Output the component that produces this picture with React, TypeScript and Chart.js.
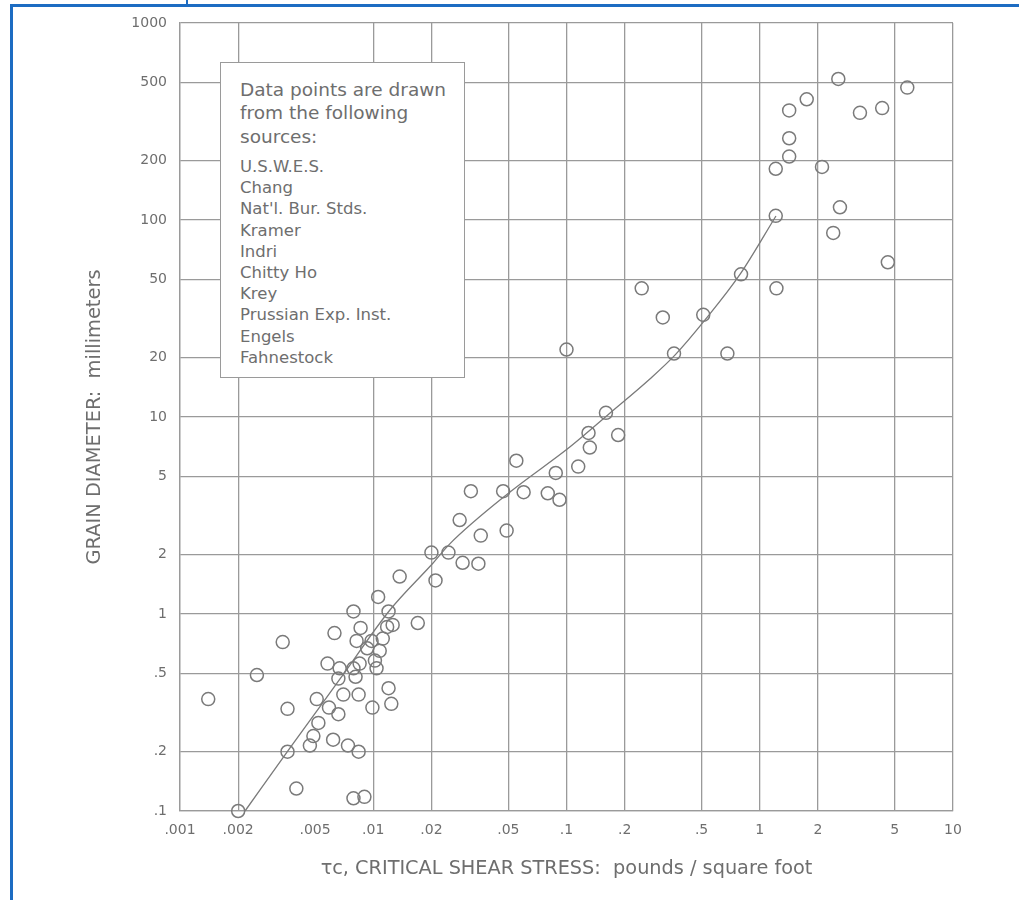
import React, { useEffect, useRef } from 'react';
import { Chart, registerables } from 'chart.js';

Chart.register(...registerables);

// Observed critical shear stress (lb/ft²) and grain diameter (mm)
const shearStress = [
  2.55, 5.8, 1.75, 1.42, 4.3, 3.3, 1.42, 1.42, 1.21, 2.1,
  2.6, 1.21, 2.4, 4.6, 0.8, 0.245, 1.22, 0.315, 0.51, 0.36,
  0.68, 0.1, 0.16, 0.13, 0.185, 0.132, 0.055, 0.115, 0.088, 0.032,
  0.047, 0.06, 0.08, 0.092, 0.028, 0.036, 0.049, 0.02, 0.0245, 0.029,
  0.035, 0.021, 0.0137, 0.0106, 0.0079, 0.012, 0.017, 0.0063, 0.0086, 0.0118,
  0.0126, 0.0034, 0.0082, 0.0098, 0.0112, 0.0093, 0.0108, 0.0058, 0.0067, 0.0079,
  0.0085, 0.0102, 0.0104, 0.0025, 0.0066, 0.0081, 0.0014, 0.0051, 0.007, 0.0084,
  0.012, 0.0124, 0.0099, 0.0036, 0.0059, 0.0066, 0.0052, 0.0049, 0.0047, 0.0062,
  0.0074, 0.0084, 0.0036, 0.004, 0.0079, 0.009, 0.002,
];
const grainDiameter = [
  520, 470, 410, 360, 370, 350, 260, 210, 182, 186,
  116, 105, 86, 61, 53, 45, 45, 32, 33, 21,
  21, 22, 10.5, 8.3, 8.1, 7, 6, 5.6, 5.2, 4.2,
  4.2, 4.15, 4.1, 3.8, 3.0, 2.5, 2.65, 2.05, 2.05, 1.82,
  1.8, 1.48, 1.55, 1.22, 1.03, 1.03, 0.9, 0.8, 0.85, 0.86,
  0.88, 0.72, 0.73, 0.73, 0.75, 0.67, 0.65, 0.56, 0.53, 0.53,
  0.56, 0.58, 0.53, 0.49, 0.47, 0.48, 0.37, 0.37, 0.39, 0.39,
  0.42, 0.35, 0.335, 0.33, 0.335, 0.31, 0.28, 0.24, 0.215, 0.23,
  0.215, 0.2, 0.2, 0.13, 0.116, 0.118, 0.1,
];

// Fitted curve
const curveStress = [0.00217, 0.00371, 0.00673, 0.0122, 0.0204, 0.0249, 0.051, 0.104, 0.168, 0.27, 0.364, 0.521, 0.79, 1.213];
const curveDiameter = [0.1, 0.209, 0.468, 1.048, 1.815, 2.27, 4.16, 7.04, 10.48, 15.6, 20.6, 31.1, 52.9, 104.8];

const xTickValues = [0.001, 0.002, 0.005, 0.01, 0.02, 0.05, 0.1, 0.2, 0.5, 1, 2, 5, 10];
const xTickLabels = ['.001', '.002', '.005', '.01', '.02', '.05', '.1', '.2', '.5', '1', '2', '5', '10'];
const xGridHidden = [0.005];
const yTickValues = [0.1, 0.2, 0.5, 1, 2, 5, 10, 20, 50, 100, 200, 500, 1000];
const yTickLabels = ['.1', '.2', '.5', '1', '2', '5', '10', '20', '50', '100', '200', '500', '1000'];

const xTitle = 'τc, CRITICAL SHEAR STRESS:  pounds / square foot';
const yTitle = 'GRAIN DIAMETER:  millimeters';
const legendHeader = ['Data points are drawn', 'from the following', 'sources:'];
const legendSources = [
  'U.S.W.E.S.', 'Chang', "Nat'l. Bur. Stds.", 'Kramer', 'Indri',
  'Chitty Ho', 'Krey', 'Prussian Exp. Inst.', 'Engels', 'Fahnestock',
];

const FONT = '"DejaVu Sans", "Noto Sans", sans-serif';
const TEXT = '#6e6e6e';
const GRID = '#9a9a9a';
const MARK = '#7a7a7a';
const BLUE = '#1d6cc2';

export default function App() {
  const canvasRef = useRef<HTMLCanvasElement | null>(null);

  useEffect(() => {
    const canvas = canvasRef.current;
    if (!canvas) return;
    const chart = new Chart(canvas, {
      type: 'scatter',
      data: {
        datasets: [
          {
            label: 'Observed',
            data: shearStress.map((x, i) => ({ x, y: grainDiameter[i] })),
            pointRadius: 6.5,
            pointBorderWidth: 1.5,
            pointBorderColor: MARK,
            pointBackgroundColor: 'rgba(0,0,0,0)',
            showLine: false,
            clip: false,
          },
          {
            label: 'Curve',
            data: curveStress.map((x, i) => ({ x, y: curveDiameter[i] })),
            showLine: true,
            pointRadius: 0,
            borderColor: MARK,
            borderWidth: 1.3,
            cubicInterpolationMode: 'monotone',
            clip: false,
          },
        ],
      },
      options: {
        animation: false,
        responsive: false,
        events: [],
        layout: { padding: { left: 0, top: 23, right: 66, bottom: 0 } },
        plugins: { legend: { display: false }, tooltip: { enabled: false } },
        scales: {
          x: {
            type: 'logarithmic',
            min: 0.001,
            max: 10,
            afterBuildTicks: (s: any) => {
              s.ticks = xTickValues.map((v) => ({ value: v }));
            },
            afterFit: (s: any) => {
              s.height = 89;
            },
            ticks: {
              autoSkip: false,
              maxRotation: 0,
              minRotation: 0,
              padding: 11,
              color: TEXT,
              font: { family: FONT, size: 14 },
              callback: (_v: any, i: number) => xTickLabels[i],
            },
            grid: {
              color: (ctx: any) =>
                ctx.tick && xGridHidden.includes(ctx.tick.value) ? 'rgba(0,0,0,0)' : GRID,
              lineWidth: 1.3,
              drawTicks: false,
            },
            border: { color: GRID, width: 1.3 },
            title: {
              display: true,
              text: xTitle,
              color: TEXT,
              font: { family: FONT, size: 19.3 },
              padding: { top: 0, bottom: 19 },
            },
          },
          y: {
            type: 'logarithmic',
            min: 0.1,
            max: 1000,
            afterBuildTicks: (s: any) => {
              s.ticks = yTickValues.map((v) => ({ value: v }));
            },
            afterFit: (s: any) => {
              s.width = 180;
            },
            ticks: {
              autoSkip: false,
              padding: 13,
              color: TEXT,
              font: { family: FONT, size: 14 },
              callback: (_v: any, i: number) => yTickLabels[i],
            },
            grid: { color: GRID, lineWidth: 1.3, drawTicks: false },
            border: { color: GRID, width: 1.3 },
            title: {
              display: true,
              text: yTitle,
              color: TEXT,
              font: { family: FONT, size: 19.4 },
              padding: { top: 83, bottom: 0 },
            },
          },
        },
      },
    } as any);
    return () => chart.destroy();
  }, []);

  return (
    <div style={{ position: 'absolute', left: 0, top: 0, width: 1019, height: 900, background: '#fff', overflow: 'hidden' }}>
      <canvas ref={canvasRef} width={1019} height={900} style={{ position: 'absolute', left: 0, top: 0, width: 1019, height: 900 }} />
      <div style={{ position: 'absolute', left: 10, top: 4, width: 1009, height: 3, background: BLUE }} />
      <div style={{ position: 'absolute', left: 10, top: 4, width: 3, height: 896, background: BLUE }} />
      <div style={{ position: 'absolute', left: 186, top: 0, width: 2, height: 5, background: BLUE }} />
      <div
        style={{
          position: 'absolute',
          left: 220,
          top: 62,
          width: 245,
          height: 316,
          boxSizing: 'border-box',
          border: `1.5px solid ${GRID}`,
          background: '#fff',
          fontFamily: FONT,
          color: TEXT,
        }}
      >
        <div style={{ position: 'absolute', left: 19, top: 14.5, fontSize: 18.5, lineHeight: '23.5px', whiteSpace: 'nowrap' }}>
          {legendHeader.map((t) => (
            <div key={t}>{t}</div>
          ))}
        </div>
        <div style={{ position: 'absolute', left: 19, top: 93, fontSize: 16.5, lineHeight: '21.2px', whiteSpace: 'nowrap' }}>
          {legendSources.map((t) => (
            <div key={t}>{t}</div>
          ))}
        </div>
      </div>
    </div>
  );
}
